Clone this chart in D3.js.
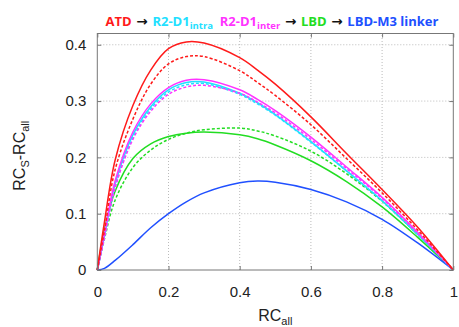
<!DOCTYPE html>
<html>
<head>
<meta charset="utf-8">
<script src="https://cdn.jsdelivr.net/npm/d3@7"></script>
<style>
  body { margin: 0; background: #fff; }
  svg { font-family: "Liberation Sans", Arial, sans-serif; }
</style>
</head>
<body>
<div id="chart"></div>
<script>
// RC_all sample positions (shared by all curves)
const rcAll = [0, 0.02, 0.05, 0.1, 0.15, 0.2, 0.25, 0.3, 0.4, 0.45, 0.5, 0.6, 0.7, 0.8, 0.9, 1]

// RC_S - RC_all
const atdSolid      = [0, 0.085, 0.195, 0.292, 0.355, 0.393, 0.405, 0.403, 0.377, 0.355, 0.33, 0.272, 0.207, 0.143, 0.076, 0]
const atdDashed     = [0, 0.07, 0.178, 0.268, 0.33, 0.366, 0.379, 0.379, 0.354, 0.333, 0.31, 0.258, 0.198, 0.137, 0.071, 0]
const interSolid    = [0, 0.065, 0.158, 0.245, 0.295, 0.324, 0.337, 0.338, 0.32, 0.303, 0.283, 0.236, 0.183, 0.129, 0.067, 0]
const intraSolid    = [0, 0.06, 0.153, 0.24, 0.29, 0.32, 0.333, 0.334, 0.314, 0.297, 0.276, 0.228, 0.176, 0.123, 0.063, 0]
const intraDashed   = [0, 0.058, 0.148, 0.235, 0.286, 0.316, 0.329, 0.331, 0.312, 0.295, 0.275, 0.227, 0.176, 0.123, 0.063, 0]
const interDashed   = [0, 0.057, 0.146, 0.232, 0.282, 0.312, 0.325, 0.328, 0.314, 0.298, 0.279, 0.232, 0.18, 0.127, 0.065, 0]
const lbdSolid      = [0, 0.072, 0.14, 0.198, 0.224, 0.237, 0.243, 0.245, 0.24, 0.233, 0.222, 0.194, 0.157, 0.112, 0.058, 0]
const lbdDashed     = [0, 0.055, 0.124, 0.182, 0.213, 0.232, 0.243, 0.249, 0.252, 0.247, 0.238, 0.211, 0.171, 0.122, 0.063, 0]
const linkerSolid   = [0, 0.003, 0.017, 0.045, 0.075, 0.1, 0.121, 0.137, 0.155, 0.158, 0.156, 0.143, 0.121, 0.09, 0.048, 0]

const series = [
  { values: lbdSolid, color: '#22dd22', dashed: false },
  { values: lbdDashed, color: '#22dd22', dashed: true },
  { values: linkerSolid, color: '#2050ff', dashed: false },
  { values: intraSolid, color: '#22e0ff', dashed: false },
  { values: intraDashed, color: '#22e0ff', dashed: true },
  { values: interDashed, color: '#ff33ff', dashed: true },
  { values: interSolid, color: '#ff33ff', dashed: false },
  { values: atdDashed, color: '#ff1a1a', dashed: true },
  { values: atdSolid, color: '#ff1a1a', dashed: false }
]

const xTicks = [0, 0.2, 0.4, 0.6, 0.8, 1]
const yTicks = [0, 0.1, 0.2, 0.3, 0.4]

const width = 459
const height = 327
const margin = { top: 33.5, right: 5.7, bottom: 57, left: 97.3 }
const innerW = width - margin.left - margin.right
const innerH = height - margin.top - margin.bottom

const svg = d3.select('#chart').append('svg')
  .attr('width', width)
  .attr('height', height)

const x = d3.scaleLinear().domain([0, 1]).range([margin.left, width - margin.right])
const y = d3.scaleLinear().domain([0, 0.42]).range([height - margin.bottom, margin.top])

// Grid
const grid = svg.append('g').attr('class', 'grid')
grid.selectAll('line.vx')
  .data(xTicks.slice(1, -1))
  .enter().append('line')
  .attr('x1', d => x(d)).attr('x2', d => x(d))
  .attr('y1', y(0)).attr('y2', margin.top)
  .attr('stroke', '#bbb').attr('stroke-dasharray', '1,2')
grid.selectAll('line.hy')
  .data(yTicks.slice(1))
  .enter().append('line')
  .attr('x1', x(0)).attr('x2', x(1))
  .attr('y1', d => y(d)).attr('y2', d => y(d))
  .attr('stroke', '#bbb').attr('stroke-dasharray', '1,2')

// Curves
const line = d3.line()
  .x(d => x(d[0]))
  .y(d => y(d[1]))
  .curve(d3.curveCatmullRom.alpha(0.5))

svg.append('g').selectAll('path')
  .data(series)
  .enter().append('path')
  .attr('d', s => line(rcAll.map((v, i) => [v, s.values[i]])))
  .attr('fill', 'none')
  .attr('stroke', s => s.color)
  .attr('stroke-width', 1.5)
  .attr('stroke-dasharray', s => s.dashed ? '3,2' : null)

// Axes (ticks point inward, box around plot)
const axisColor = '#777'
const styleAxis = g => {
  g.select('.domain').remove()
  g.selectAll('.tick line').attr('stroke', axisColor)
  g.selectAll('.tick text').attr('fill', '#222').attr('font-size', 15)
}

svg.append('g')
  .attr('transform', `translate(0,${y(0)})`)
  .call(d3.axisBottom(x).tickValues(xTicks).tickFormat(d3.format('')).tickSize(-4).tickPadding(16))
  .call(styleAxis)
svg.append('g')
  .attr('transform', `translate(0,${margin.top})`)
  .call(d3.axisTop(x).tickValues(xTicks).tickFormat('').tickSize(-4))
  .call(styleAxis)
svg.append('g')
  .attr('transform', `translate(${x(0)},0)`)
  .call(d3.axisLeft(y).tickValues(yTicks).tickFormat(d3.format('')).tickSize(-4).tickPadding(11))
  .call(styleAxis)
svg.append('g')
  .attr('transform', `translate(${x(1)},0)`)
  .call(d3.axisRight(y).tickValues(yTicks).tickFormat('').tickSize(-4))
  .call(styleAxis)

svg.append('rect')
  .attr('x', x(0)).attr('y', margin.top)
  .attr('width', innerW).attr('height', innerH)
  .attr('fill', 'none').attr('stroke', axisColor).attr('stroke-width', 1)

// Axis labels
const xLabel = svg.append('text')
  .attr('x', x(0.5)).attr('y', 321)
  .attr('text-anchor', 'middle')
  .attr('font-size', 16).attr('fill', '#222')
xLabel.append('tspan').text('RC')
xLabel.append('tspan').text('all').attr('font-size', 11).attr('dy', 4)

const yLabel = svg.append('text')
  .attr('transform', `translate(25,${(y(0) + margin.top) / 2 + 4}) rotate(-90)`)
  .attr('text-anchor', 'middle')
  .attr('font-size', 16).attr('fill', '#222')
yLabel.append('tspan').text('RC')
yLabel.append('tspan').text('S').attr('font-size', 11).attr('dy', 4)
yLabel.append('tspan').text('-RC').attr('dy', -4)
yLabel.append('tspan').text('all').attr('font-size', 11).attr('dy', 4)

// Title
const titleParts = [
  { t: 'ATD', c: '#ff1a1a' },
  { t: ' → ', c: '#111', arrow: true },
  { t: 'R2-D1', c: '#22e0ff' },
  { t: 'intra', c: '#22e0ff', sub: true },
  { t: '  ', c: '#111' },
  { t: 'R2-D1', c: '#ff33ff' },
  { t: 'inter', c: '#ff33ff', sub: true },
  { t: ' → ', c: '#111', arrow: true },
  { t: 'LBD', c: '#22dd22' },
  { t: ' → ', c: '#111', arrow: true },
  { t: 'LBD-M3 linker', c: '#2050ff' }
]
const title = svg.append('text')
  .attr('x', 272).attr('y', 26)
  .attr('text-anchor', 'middle')
  .attr('font-family', '"Open Sans", sans-serif')
  .attr('font-weight', 'bold')
  .attr('font-size', 13)
  .attr('xml:space', 'preserve')
let wasSub = false
titleParts.forEach(p => {
  const ts = title.append('tspan').text(p.t).attr('fill', p.c)
  if (p.arrow) ts.attr('font-family', '"DejaVu Sans", sans-serif').attr('font-size', 13.5)
  if (p.sub) { ts.attr('font-size', 9.5).attr('dy', 3); wasSub = true }
  else if (wasSub) { ts.attr('dy', -3); wasSub = false }
})
</script>
</body>
</html>
